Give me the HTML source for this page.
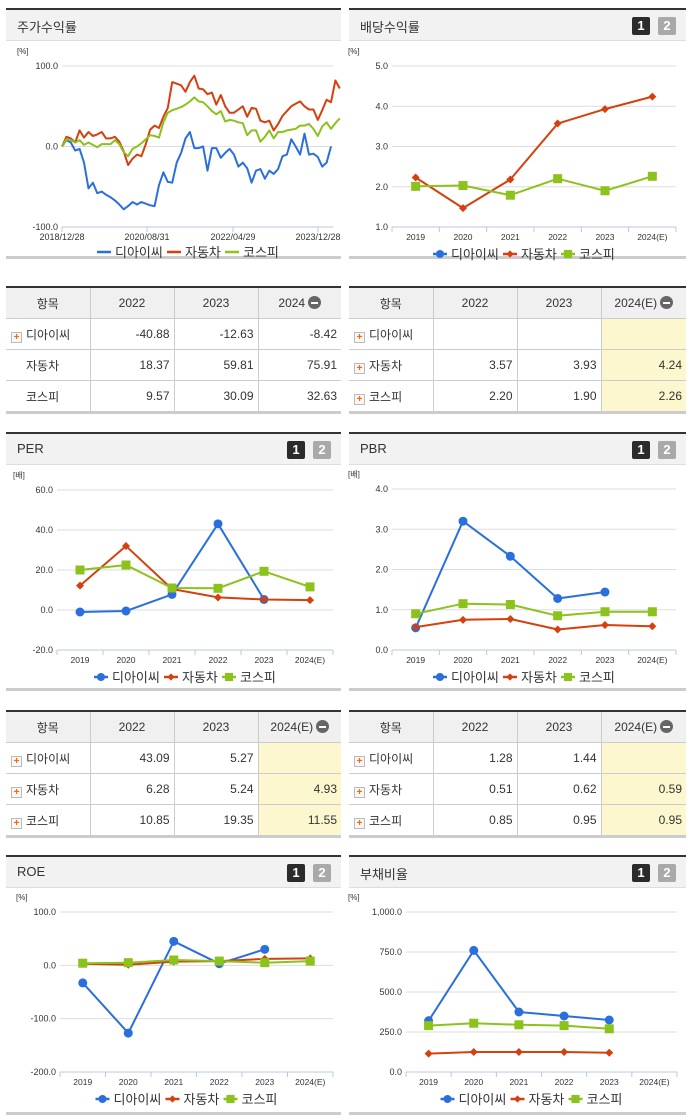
<!DOCTYPE html>
<html><head><meta charset="utf-8">
<style>
body{margin:0;width:691px;height:1115px;background:#fff;position:relative;overflow:hidden;font-family:"Liberation Sans","Noto Sans CJK KR",sans-serif;}
.panel{position:absolute;border-top:2px solid #333;}
.hdr{position:absolute;left:0;right:0;top:0;height:30px;background:#f2f2f2;border-bottom:1px solid #ddd;}
.hdr .t{position:absolute;left:11px;top:7px;font-size:13px;color:#333;}
.btn{position:absolute;top:7px;width:18px;height:18px;font-size:13px;font-weight:bold;color:#fff;text-align:center;line-height:18px;border-radius:2px;}
.b1{right:36px;background:#2b2b2b;}
.b2{right:10px;background:#a9a9a9;}
.bot{position:absolute;height:3px;background:#ccc;}
table{position:absolute;border-collapse:collapse;font-size:12px;color:#333;border-top:2px solid #333;border-bottom:3px solid #ccc;table-layout:fixed;}
td,th{border:1px solid #ccc;height:30px;padding:0 4px;}
tr td:first-child,tr th:first-child{border-left:none;}
tr td:last-child,tr th:last-child{border-right:none;}
th{background:#f0f0f0;font-weight:normal;text-align:center;}
td{text-align:right;}
td.n{text-align:left;padding-left:5px;}
td.y{background:#fdf7cf;}
.plus{display:inline-block;width:9px;height:9px;border:1px solid #bbb;background:#f7f7f7;color:#f60;font-size:10px;line-height:9px;text-align:center;font-weight:bold;vertical-align:-1px;margin-right:4px;}
.sp{display:inline-block;width:15px;}
.minus{display:inline-block;width:13px;height:13px;border-radius:50%;background:#666;vertical-align:-2px;margin-left:3px;position:relative;}
.minus:after{content:"";position:absolute;left:3px;top:6px;width:7px;height:2px;background:#fff;}
svg{position:absolute;left:0;top:0;}
</style></head><body>

<div class="panel" style="left:6px;top:8px;width:335px;height:249px;"><div class="hdr"><span class="t">주가수익률</span></div></div>
<div class="bot" style="left:6px;top:256px;width:335px;"></div>
<div class="panel" style="left:349px;top:8px;width:337px;height:249px;"><div class="hdr"><span class="t">배당수익률</span><span class="btn b1">1</span><span class="btn b2">2</span></div></div>
<div class="bot" style="left:349px;top:256px;width:337px;"></div>

<div class="panel" style="left:6px;top:432px;width:335px;"><div class="hdr"><span class="t">PER</span><span class="btn b1">1</span><span class="btn b2">2</span></div></div>
<div class="bot" style="left:6px;top:688px;width:335px;"></div>
<div class="panel" style="left:349px;top:432px;width:337px;"><div class="hdr"><span class="t">PBR</span><span class="btn b1">1</span><span class="btn b2">2</span></div></div>
<div class="bot" style="left:349px;top:688px;width:337px;"></div>

<div class="panel" style="left:6px;top:855px;width:335px;"><div class="hdr"><span class="t">ROE</span><span class="btn b1">1</span><span class="btn b2">2</span></div></div>
<div class="bot" style="left:6px;top:1112px;width:335px;"></div>
<div class="panel" style="left:349px;top:855px;width:337px;"><div class="hdr"><span class="t">부채비율</span><span class="btn b1">1</span><span class="btn b2">2</span></div></div>
<div class="bot" style="left:349px;top:1112px;width:337px;"></div>

<table style="left:6px;top:286px;width:335px;">
<colgroup><col style="width:84px"><col style="width:84px"><col style="width:84px"><col style="width:83px"></colgroup>
<tr><th>항목</th><th>2022</th><th>2023</th><th>2024<span class="minus"></span></th></tr>
<tr><td class="n"><span class="plus">+</span>디아이씨</td><td>-40.88</td><td>-12.63</td><td>-8.42</td></tr>
<tr><td class="n"><span class="sp"></span>자동차</td><td>18.37</td><td>59.81</td><td>75.91</td></tr>
<tr><td class="n"><span class="sp"></span>코스피</td><td>9.57</td><td>30.09</td><td>32.63</td></tr>
</table>
<table style="left:349px;top:286px;width:337px;">
<colgroup><col style="width:84px"><col style="width:84px"><col style="width:84px"><col style="width:85px"></colgroup>
<tr><th>항목</th><th>2022</th><th>2023</th><th>2024(E)<span class="minus"></span></th></tr>
<tr><td class="n"><span class="plus">+</span>디아이씨</td><td></td><td></td><td class="y"></td></tr>
<tr><td class="n"><span class="plus">+</span>자동차</td><td>3.57</td><td>3.93</td><td class="y">4.24</td></tr>
<tr><td class="n"><span class="plus">+</span>코스피</td><td>2.20</td><td>1.90</td><td class="y">2.26</td></tr>
</table>
<table style="left:6px;top:710px;width:335px;">
<colgroup><col style="width:84px"><col style="width:84px"><col style="width:84px"><col style="width:83px"></colgroup>
<tr><th>항목</th><th>2022</th><th>2023</th><th>2024(E)<span class="minus"></span></th></tr>
<tr><td class="n"><span class="plus">+</span>디아이씨</td><td>43.09</td><td>5.27</td><td class="y"></td></tr>
<tr><td class="n"><span class="plus">+</span>자동차</td><td>6.28</td><td>5.24</td><td class="y">4.93</td></tr>
<tr><td class="n"><span class="plus">+</span>코스피</td><td>10.85</td><td>19.35</td><td class="y">11.55</td></tr>
</table>
<table style="left:349px;top:710px;width:337px;">
<colgroup><col style="width:84px"><col style="width:84px"><col style="width:84px"><col style="width:85px"></colgroup>
<tr><th>항목</th><th>2022</th><th>2023</th><th>2024(E)<span class="minus"></span></th></tr>
<tr><td class="n"><span class="plus">+</span>디아이씨</td><td>1.28</td><td>1.44</td><td class="y"></td></tr>
<tr><td class="n"><span class="plus">+</span>자동차</td><td>0.51</td><td>0.62</td><td class="y">0.59</td></tr>
<tr><td class="n"><span class="plus">+</span>코스피</td><td>0.85</td><td>0.95</td><td class="y">0.95</td></tr>
</table>

<svg id="charts" width="691" height="1115"></svg>

<script>
// ---- data ----
const stockDates = ["2018/12/28","2020/08/31","2022/04/29","2023/12/28"];
const stockDic = [0,8,5,-5,-3,-20,-52,-45,-58,-56,-60,-63,-67,-72,-78,-74,-69,-72,-69,-71,-73,-74,-48,-32,-44,-45,-20,-8,10,18,-2,-2,0,-30,-2,-2,-14,-8,-3,-10,-25,-20,-27,-45,-30,-28,-40,-30,-34,-28,-12,-10,9,0,-10,16,-10,-9,-13,-25,-20,0];
const stockAuto = [0,12,10,5,20,11,18,13,15,18,10,10,12,6,-6,-23,-15,-10,-12,3,21,26,23,37,48,80,78,76,68,80,88,72,71,65,67,52,64,50,42,42,46,50,37,48,47,32,30,32,20,28,38,44,50,53,56,50,46,46,33,45,58,55,82,72];
const stockKospi = [0,9,8,5,8,2,5,2,-1,3,3,3,8,3,-7,-12,-3,0,4,9,14,13,11,30,42,45,47,49,52,56,61,56,55,50,44,40,44,31,33,32,30,29,14,20,20,6,12,20,10,18,18,20,21,22,26,26,28,22,13,25,30,22,29,35];
const years = ["2019","2020","2021","2022","2023","2024(E)"];
const divDic = [null,null,null,null,null,null];
const divAuto = [2.23,1.47,2.18,3.57,3.93,4.24];
const divKospi = [2.01,2.03,1.79,2.20,1.90,2.26];
const perDic = [-1,-0.5,7.8,43.09,5.27,null];
const perAuto = [12.2,32,10.5,6.28,5.24,4.93];
const perKospi = [20,22.5,11,10.85,19.35,11.55];
const pbrDic = [0.55,3.2,2.33,1.28,1.44,null];
const pbrAuto = [0.57,0.75,0.77,0.51,0.62,0.59];
const pbrKospi = [0.9,1.15,1.13,0.85,0.95,0.95];
const roeDic = [-33,-127,45,3,30,null];
const roeAuto = [3,1,7,8,12,13];
const roeKospi = [4,5,10,8,5,8];
const debtDic = [320,760,375,350,325,null];
const debtAuto = [115,125,125,125,120,null];
const debtKospi = [290,305,295,290,270,null];
const seriesNames = ["디아이씨","자동차","코스피"];
const ticksStock=[100,0,-100], ticksDiv=[5,4,3,2,1], ticksPer=[60,40,20,0,-20], ticksPbr=[4,3,2,1,0], ticksRoe=[100,0,-100,-200], ticksDebt=[1000,750,500,250,0];

const COLORS=["#2b6fdc","#d4400f","#8bc21c"];
const NS="http://www.w3.org/2000/svg";
const svg=document.getElementById('charts');
function mk(tag,attrs,parent){const e=document.createElementNS(NS,tag);for(const k in attrs)e.setAttribute(k,attrs[k]);(parent||svg).appendChild(e);return e;}
function txt(x,y,s,size,anchor,parent,fill){const t=mk('text',{x:x,y:y,'font-size':size,'text-anchor':anchor||'start',fill:fill||'#333','font-family':'"Liberation Sans","Noto Sans CJK KR",sans-serif'},parent);t.textContent=s;return t;}
function fmt(v,comma){let s=v.toFixed(1);if(comma&&Math.abs(v)>=1000)s=s.replace(/\B(?=(\d{3})+(?!\d))/,',');return s;}

function axes(g,cfg,ticks){
  const ys=v=>cfg.y0+(cfg.max-v)/(cfg.max-cfg.min)*(cfg.y1-cfg.y0);
  ticks.forEach((v,i)=>{
    const y=ys(v);
    if(i<ticks.length-1){const gl=mk('line',{x1:cfg.x0,x2:cfg.x1,y1:y,y2:y,stroke:'#ddd','stroke-width':1},g);}
    const tl=txt(cfg.x0-4,y+3,fmt(v,cfg.comma),9,'end',g);
    
    
  });
  const ax=mk('line',{x1:cfg.x0,x2:cfg.x1,y1:cfg.y1,y2:cfg.y1,stroke:'#b8c8dc','stroke-width':1},g);
  
  
  const u=txt(cfg.x0-44+(cfg.unitDx||0),cfg.y0-12,cfg.unit,8,'start',g);
  
  
  return ys;
}
function legend(g,cx,y,markers){
  const w=[70,58,50];let x=cx-89;
  seriesNames.forEach((n,i)=>{
    const c=COLORS[i];
    mk('line',{x1:x,x2:x+14,y1:y,y2:y,stroke:c,'stroke-width':2.5},g);
    if(markers){drawMarker(g,i,x+7,y,0.9);}
    const t=txt(x+18,y+5,n,13,'start',g,'#333');
    
    
    x+=w[i];
  });
}
function drawMarker(g,i,x,y,s){
  const c=COLORS[i];let m;
  if(i===0)m=mk('circle',{cx:x,cy:y,r:4.5*s,fill:c},g);
  else if(i===1)m=mk('path',{d:`M${x} ${y-4*s}L${x+4*s} ${y}L${x} ${y+4*s}L${x-4*s} ${y}Z`,fill:c},g);
  else m=mk('rect',{x:x-4.5*s,y:y-4.5*s,width:9*s,height:9*s,fill:c},g);
  return m;
}
function catChart(name,cfg,ticks,data){
  const g=mk('g',{});
  
  
  const ys=axes(g,cfg,ticks);
  const bw=(cfg.x1-cfg.x0)/years.length;
  const xs=i=>cfg.x0+bw*(i+0.5);
  for(let i=0;i<=years.length;i++)mk('line',{x1:cfg.x0+bw*i,x2:cfg.x0+bw*i,y1:cfg.y1,y2:cfg.y1+5,stroke:'#b8c8dc'},g);
  years.forEach((yr,i)=>{const t=txt(xs(i),cfg.y1+13,yr,8.5,'middle',g);});
  data.forEach((arr,si)=>{
    let d='';let pen=false;
    arr.forEach((v,i)=>{if(v===null){pen=false;return;}d+=(pen?'L':'M')+xs(i).toFixed(1)+' '+ys(v).toFixed(1);pen=true;});
    if(d){const p=mk('path',{d:d,fill:'none',stroke:COLORS[si],'stroke-width':2,'stroke-linejoin':'round'},g);}
    arr.forEach((v,i)=>{if(v===null)return;const m=drawMarker(g,si,xs(i),ys(v),1);});
  });
  legend(g,(cfg.x0+cfg.x1)/2-12,cfg.y1+27,true);
}

// stock chart
(function(){
  const cfg={x0:62,x1:333,y0:66,y1:227,max:100,min:-100,unit:'[%]',unitDx:-1};
  const g=mk('g',{});
  
  
  const ys=axes(g,cfg,ticksStock);
  const n=stockDic.length;const xe=331;
  const xs=i=>cfg.x0+(xe-cfg.x0)*i/(n-1);
  const dx=[62,147,233,318];
  stockDates.forEach((d,i)=>{mk('line',{x1:dx[i],x2:dx[i],y1:227,y2:232,stroke:'#b8c8dc'},g);const t=txt(dx[i],240,d,9,'middle',g);});
  [stockDic,stockAuto,stockKospi].forEach((arr,si)=>{
    const d=arr.map((v,i)=>(i?'L':'M')+xs(i).toFixed(1)+' '+ys(v).toFixed(1)).join('');
    const p=mk('path',{d:d,fill:'none',stroke:COLORS[si],'stroke-width':2,'stroke-linejoin':'round'},g);
    
    
  });
  legend(g,186,252,false);
})();

catChart('dividend-chart',{x0:392,x1:676,y0:66,y1:227,max:5,min:1,unit:'[%]'},ticksDiv,[divDic,divAuto,divKospi]);
catChart('per-chart',{x0:57,x1:333,y0:490,y1:650,max:60,min:-20,unit:'[배]'},ticksPer,[perDic,perAuto,perKospi]);
catChart('pbr-chart',{x0:392,x1:676,y0:489,y1:650,max:4,min:0,unit:'[배]'},ticksPbr,[pbrDic,pbrAuto,pbrKospi]);
catChart('roe-chart',{x0:60,x1:333,y0:912,y1:1072,max:100,min:-200,unit:'[%]'},ticksRoe,[roeDic,roeAuto,roeKospi]);
catChart('debt-ratio-chart',{x0:406,x1:677,y0:912,y1:1072,max:1000,min:0,unit:'[%]',comma:true,unitDx:-14},ticksDebt,[debtDic,debtAuto,debtKospi]);
</script>
</body></html>
